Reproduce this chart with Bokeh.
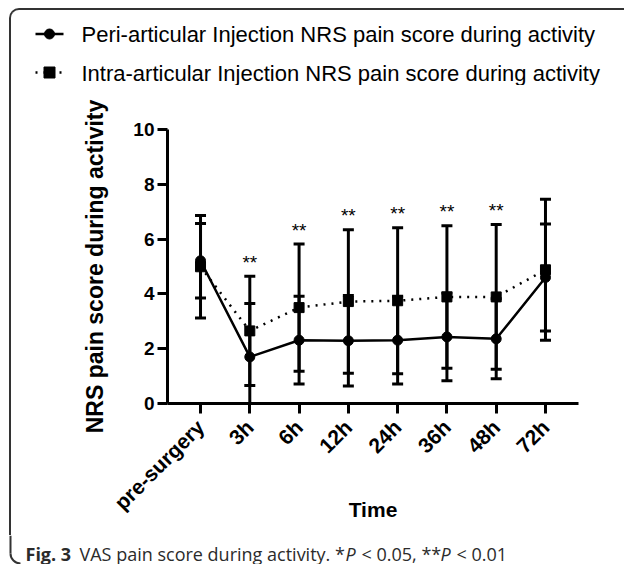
import math
from bokeh.plotting import figure
from bokeh.models import FactorRange, Range1d, FixedTicker, Div
from bokeh.layouts import column, row
from bokeh.core.properties import value
from bokeh.embed import file_html
from bokeh.resources import INLINE

# ---------------- data ----------------
categories = ["pre-surgery", "3h", "6h", "12h", "24h", "36h", "48h", "72h"]
peri_mean = [5.21, 1.70, 2.31, 2.29, 2.31, 2.43, 2.36, 4.60]
peri_sd = [1.36, 1.95, 1.60, 1.65, 1.60, 1.60, 1.46, 1.95]
intra_mean = [4.99, 2.65, 3.50, 3.72, 3.75, 3.89, 3.89, 4.88]
intra_sd = [1.87, 1.99, 2.32, 2.62, 2.66, 2.60, 2.64, 2.57]
significance = ["", "**", "**", "**", "**", "**", "**", ""]
y_ticks = [0, 2, 4, 6, 8, 10]

peri_label = "Peri-articular Injection NRS pain score during activity"
intra_label = "Intra-articular Injection NRS pain score during activity"
y_title = "NRS pain score during activity"
x_title = "Time"
caption_parts = ["Fig. 3", "VAS pain score during activity. *", "P", "< 0.05, **", "P", "< 0.01"]
caption_styles = ["bold", "normal", "italic", "normal", "italic", "normal"]

# ---------------- layout constants ----------------
TOTAL_W = 624
TOP_H = 18
HEAD_H = 67
MAIN_H = 450
FOOT_H = 29
LINE_W = 11
STRIP_W = 60
MAIN_W = TOTAL_W - STRIP_W
HEAD_W = TOTAL_W - LINE_W
FONT = "Liberation Sans"
CAP_FONT = "Open Sans"
BORDER = "#333333"
BW = 2


def bare(width, height):
    f = figure(width=width, height=height, x_range=Range1d(0, width),
               y_range=Range1d(0, height), output_backend="svg",
               toolbar_location=None, x_axis_type=None, y_axis_type=None,
               min_border=0, margin=(0, 0, 0, 0))
    f.outline_line_color = None
    f.xgrid.grid_line_color = None
    f.ygrid.grid_line_color = None
    f.background_fill_color = "white"
    f.border_fill_color = "white"
    return f


def vline_div(width, height):
    html = ('<div style="box-sizing:border-box;width:%dpx;height:%dpx;'
            'border-right:%dpx solid %s;margin:0;padding:0"></div>'
            % (LINE_W, height, BW, BORDER))
    return Div(text=html, width=width, height=height, margin=(0, 0, 0, 0))


# ---------------- top border ----------------
top_div = Div(text=('<div style="position:relative;top:7px;left:9px;box-sizing:border-box;'
                    'width:%dpx;height:%dpx;border-top:%dpx solid %s;border-left:%dpx solid %s;'
                    'border-top-left-radius:10px;margin:0;padding:0"></div>'
                    % (TOTAL_W - 9, TOP_H - 7, BW, BORDER, BW, BORDER)),
              width=TOTAL_W, height=TOP_H, margin=(0, 0, 0, 0))

# ---------------- header (legend) ----------------
head = bare(HEAD_W, HEAD_H)
hx = lambda px: px - LINE_W
hy = lambda py: TOP_H + HEAD_H - py
head.line(x=[hx(35), hx(63)], y=[hy(33.5)] * 2, line_color="black", line_width=2.5)
head.scatter(x=[hx(49)], y=[hy(33.5)], marker="circle", size=10, color="black")
head.line(x=[hx(35), hx(63)], y=[hy(72)] * 2, line_color="black", line_width=2.5,
          line_dash="2 6")
head.scatter(x=[hx(49)], y=[hy(72)], marker="square", size=11, color="black")
head.text(x=[hx(81), hx(81)], y=[hy(34), hy(73)], text=[peri_label, intra_label],
          text_font=value(FONT), text_font_size="22px", text_baseline="middle",
          text_align="left", text_color="black")

# ---------------- main chart ----------------
FL, FR, FT, FB = 167 - STRIP_W, 46, 129 - TOP_H - HEAD_H, 132
p = figure(width=MAIN_W, height=MAIN_H,
           x_range=FactorRange(*categories, range_padding=0.17,
                               range_padding_units="absolute"),
           y_range=Range1d(0, 10),
           output_backend="svg", toolbar_location=None,
           min_border_left=FL, min_border_right=FR,
           min_border_top=FT, min_border_bottom=FB, margin=(0, 0, 0, 0))
p.outline_line_color = None
p.xgrid.grid_line_color = None
p.ygrid.grid_line_color = None
p.background_fill_color = "white"
p.border_fill_color = "white"

for ax in (p.xaxis[0], p.yaxis[0]):
    ax.axis_line_width = 3
    ax.axis_line_color = "black"
    ax.major_tick_line_width = 3
    ax.major_tick_line_color = "black"
    ax.major_tick_out = 10
    ax.major_tick_in = 0
    ax.minor_tick_line_color = None
    ax.major_label_text_font = FONT
    ax.major_label_text_font_style = "bold"
    ax.major_label_text_color = "black"
    ax.axis_label_text_font = FONT
    ax.axis_label_text_font_style = "bold"
    ax.axis_label_text_color = "black"

p.yaxis.ticker = FixedTicker(ticks=y_ticks)
p.yaxis.major_label_text_font_size = "19px"
p.yaxis.major_label_standoff = 3
p.yaxis.axis_label = y_title
p.yaxis.axis_label_text_font_size = "23px"
p.yaxis.axis_label_standoff = 22

p.xaxis.major_label_text_font_size = "21px"
p.xaxis.major_label_orientation = math.pi / 4
p.xaxis.major_label_standoff = 10
p.xaxis.axis_label = x_title
p.xaxis.axis_label_text_font_size = "21px"
p.xaxis.axis_label_standoff = -27

peri_lo = [m - s for m, s in zip(peri_mean, peri_sd)]
peri_hi = [m + s for m, s in zip(peri_mean, peri_sd)]
intra_lo = [m - s for m, s in zip(intra_mean, intra_sd)]
intra_hi = [m + s for m, s in zip(intra_mean, intra_sd)]

p.segment(x0=categories, y0=peri_lo, x1=categories, y1=peri_hi,
          line_color="black", line_width=3)
p.segment(x0=categories, y0=intra_lo, x1=categories, y1=intra_hi,
          line_color="black", line_width=3)
p.scatter(x=categories * 4, y=peri_lo + peri_hi + intra_lo + intra_hi,
          marker="dash", size=11, line_width=3, line_color="black")

p.line(x=categories, y=peri_mean, line_color="black", line_width=2.5)
p.line(x=categories, y=intra_mean, line_color="black", line_width=2.5,
       line_dash="2 6")
p.scatter(x=categories, y=peri_mean, marker="circle", size=10, color="black")
p.scatter(x=categories, y=intra_mean, marker="square", size=10, color="black")

p.text(x=categories, y=intra_hi, text=significance, y_offset=-14,
       text_align="center", text_baseline="middle", text_font_size="19px",
       text_font=value(FONT), text_color="black")

# ---------------- footer (caption + border) ----------------
foot = bare(TOTAL_W, FOOT_H)
FOOT_TOP = TOP_H + HEAD_H + MAIN_H
fy = lambda py: FOOT_TOP + FOOT_H - py
foot.segment(x0=[10], y0=[FOOT_H], x1=[10], y1=[fy(553)],
             line_color=BORDER, line_width=BW)
foot.arc(x=[20], y=[fy(553)], radius=10, start_angle=math.pi,
         end_angle=3 * math.pi / 2, line_color=BORDER, line_width=BW)

cap_x = [25, 79, 345, 361, 440, 456]
for cx, txt, style in zip(cap_x, caption_parts, caption_styles):
    foot.text(x=[cx], y=[fy(553)], text=[txt], text_font=value(CAP_FONT),
              text_font_style=style, text_font_size="18px",
              text_color="#2b2b2b", text_baseline="alphabetic", text_align="left")

layout = column(top_div,
                row(vline_div(LINE_W, HEAD_H), head, spacing=0),
                row(vline_div(STRIP_W, MAIN_H), p, spacing=0),
                foot, spacing=0)
open("out.html", "w").write(file_html(layout, INLINE))
